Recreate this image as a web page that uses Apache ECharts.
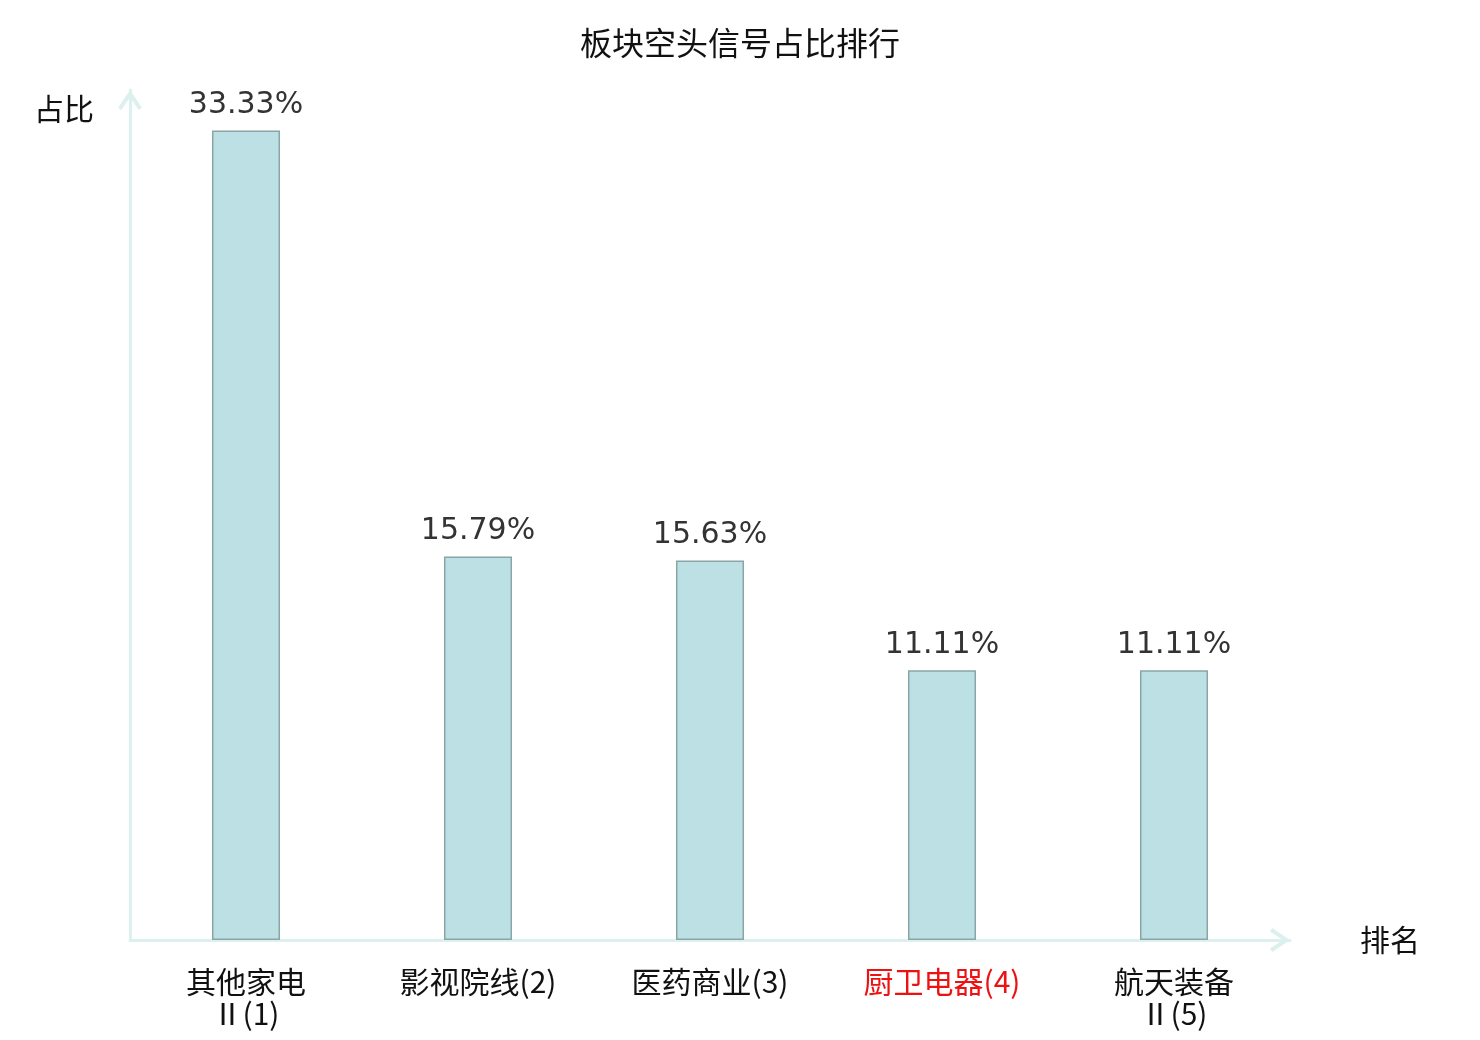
<!DOCTYPE html>
<html>
<head>
<meta charset="utf-8">
<title>板块空头信号占比排行</title>
<script src="https://cdn.jsdelivr.net/npm/echarts@6/dist/echarts.min.js"></script>
<style>
  html, body { margin: 0; padding: 0; background: #fff; }
  #app { width: 1480px; height: 1040px; }
</style>
</head>
<body>
<div id="app"></div>
<script>
// 板块名称（含排名）
var categories = ['其他家电\nⅡ(1)', '影视院线(2)', '医药商业(3)', '厨卫电器(4)', '航天装备\nⅡ(5)'];
// 空头信号占比 (%)
var ratios = [33.33, 15.79, 15.63, 11.11, 11.11];
// 需要标红的板块序号
var highlightIndex = 3;

// 空心箭头（折线形）
var chevron = 'path://M0,18 L12,0 L24,18 L20.7,20.2 L12,7.2 L3.3,20.2 Z';
var axisLineStyle = {
    show: true,
    lineStyle: { color: '#dcf1ee', width: 3 },
    symbol: ['none', chevron],
    symbolSize: [24, 20],
    symbolOffset: [0, -10]
};

var chart = echarts.init(document.getElementById('app'));
var option = {
    title: {
        text: '板块空头信号占比排行',
        left: 'center',
        top: 22,
        textStyle: { fontSize: 32, fontWeight: 'normal', color: '#111', fontFamily: 'Noto Sans CJK SC' }
    },
    grid: { left: 130, right: 190, top: 90, bottom: 100 },
    xAxis: {
        type: 'category',
        data: categories,
        name: '排名',
        nameGap: 70,
        nameTextStyle: { fontSize: 30, color: '#111', fontFamily: 'Noto Sans CJK SC' },
        axisLine: axisLineStyle,
        axisTick: { show: false },
        axisLabel: {
            fontSize: 30,
            lineHeight: 32,
            margin: 26,
            fontFamily: 'Noto Sans CJK SC',
            color: function (value, index) {
                return index === highlightIndex ? '#ee1111' : '#111';
            }
        }
    },
    yAxis: {
        type: 'value',
        min: 0,
        max: 35,
        name: '占比',
        nameGap: -34,
        nameTextStyle: { fontSize: 30, color: '#111', align: 'right', padding: [0, 36, 0, 0], fontFamily: 'Noto Sans CJK SC' },
        axisLine: axisLineStyle,
        axisTick: { show: false },
        axisLabel: { show: false },
        splitLine: { show: false }
    },
    series: [{
        type: 'bar',
        data: ratios,
        barWidth: 68,
        itemStyle: { color: '#bce0e3', borderColor: '#8aa5a6', borderWidth: 1.5 },
        label: {
            show: true,
            position: 'top',
            distance: 10,
            fontSize: 30,
            color: '#333',
            fontFamily: 'DejaVu Sans',
            formatter: function (p) { return p.value.toFixed(2) + '%'; }
        }
    }]
};
chart.setOption(option);
</script>
</body>
</html>
